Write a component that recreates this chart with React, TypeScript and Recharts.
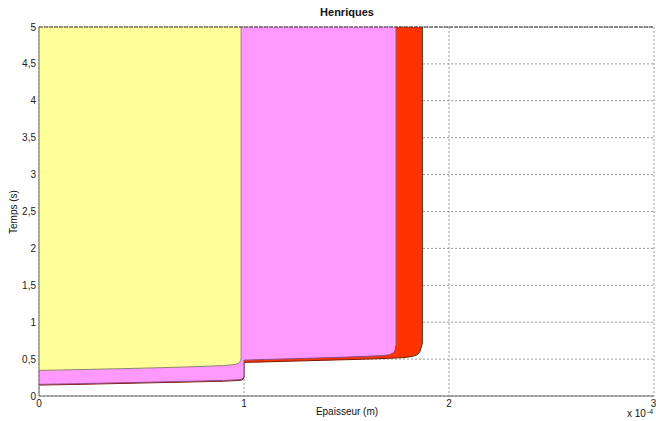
import { ComposedChart, Area, XAxis, YAxis, CartesianGrid, ReferenceLine } from 'recharts';

const xTicks = [0, 1, 2, 3];
const yTicks = [0, 0.5, 1, 1.5, 2, 2.5, 3, 3.5, 4, 4.5, 5];

// bottom boundary of each layer (top is always 5 s), x in units of 1e-4 m
const redX = [0, 0.1, 0.2, 0.3, 0.4, 0.5, 0.6, 0.7, 0.8, 0.9, 0.95, 0.98, 0.99, 0.997, 1.0, 1.0, 1.1, 1.2, 1.3, 1.4, 1.5, 1.6, 1.7, 1.78, 1.82, 1.845, 1.858, 1.865, 1.87, 1.87];
const redLow = [0.148, 0.153, 0.158, 0.164, 0.17, 0.176, 0.182, 0.188, 0.194, 0.201, 0.207, 0.212, 0.218, 0.23, 0.25, 0.455, 0.462, 0.47, 0.477, 0.485, 0.492, 0.5, 0.51, 0.52, 0.535, 0.56, 0.6, 0.66, 0.72, 5];

const magentaX = [0, 0.1, 0.2, 0.3, 0.4, 0.5, 0.6, 0.7, 0.8, 0.9, 0.95, 0.975, 0.99, 0.996, 1.0, 1.0, 1.1, 1.2, 1.3, 1.4, 1.5, 1.6, 1.68, 1.71, 1.73, 1.738, 1.742, 1.742];
const magentaLow = [0.157, 0.162, 0.167, 0.173, 0.179, 0.185, 0.191, 0.197, 0.203, 0.21, 0.216, 0.22, 0.228, 0.24, 0.27, 0.486, 0.494, 0.502, 0.51, 0.518, 0.527, 0.537, 0.548, 0.56, 0.585, 0.63, 0.7, 5];

const yellowX = [0, 0.1, 0.2, 0.3, 0.4, 0.5, 0.6, 0.7, 0.8, 0.9, 0.94, 0.96, 0.972, 0.98, 0.984, 0.986, 0.986];
const yellowLow = [0.347, 0.352, 0.358, 0.364, 0.37, 0.377, 0.384, 0.392, 0.401, 0.413, 0.422, 0.43, 0.443, 0.46, 0.48, 0.51, 5];

const toData = (xs: number[], lows: number[]) => xs.map((x, i) => ({ x, low: lows[i] }));

const redData = toData(redX, redLow);
const magentaData = toData(magentaX, magentaLow);
const yellowData = toData(yellowX, yellowLow);

const font = 'Liberation Sans, Arial, sans-serif';
const fmt = (v: number) => String(v).replace('.', ',');

export default function App() {
  return (
    <div style={{ position: 'absolute', left: 0, top: 0, width: 656, height: 421, background: '#fff', fontFamily: font }}>
      <ComposedChart width={656} height={421} margin={{ top: 27, right: 2, left: 0, bottom: 0 }}>
        <XAxis
          dataKey="x"
          type="number"
          domain={[0, 3]}
          ticks={xTicks}
          allowDataOverflow
          height={25}
          tickLine={false}
          tickSize={0}
          tickMargin={4}
          axisLine={{ stroke: '#666' }}
          tick={{ fontSize: 10, fill: '#222', fontFamily: font }}
        />
        <YAxis
          type="number"
          domain={[0, 5]}
          ticks={yTicks}
          allowDataOverflow
          width={39}
          tickLine={false}
          tickSize={0}
          tickMargin={3}
          tickFormatter={fmt}
          axisLine={{ stroke: '#666' }}
          tick={{ fontSize: 10, fill: '#222', fontFamily: font }}
        />
        <Area data={redData} dataKey="low" baseValue={5} type="linear" fill="#ff3300" fillOpacity={1} stroke="#7a1a00" strokeWidth={1} isAnimationActive={false} />
        <Area data={magentaData} dataKey="low" baseValue={5} type="linear" fill="#ff99ff" fillOpacity={1} stroke="#8a4a8a" strokeWidth={1} isAnimationActive={false} />
        <Area data={yellowData} dataKey="low" baseValue={5} type="linear" fill="#ffff99" fillOpacity={1} stroke="#8a8a6a" strokeWidth={1} isAnimationActive={false} />
        <CartesianGrid stroke="#999" strokeDasharray="2 2" horizontalValues={yTicks} verticalValues={xTicks} />
        <ReferenceLine y={5} stroke="#333" strokeDasharray="4 1" />
      </ComposedChart>
      <div style={{ position: 'absolute', left: 39, width: 616, top: 6, textAlign: 'center', fontSize: 11, fontWeight: 'bold', color: '#111' }}>
        Henriques
      </div>
      <div style={{ position: 'absolute', left: 39, width: 616, top: 406, textAlign: 'center', fontSize: 10, color: '#111' }}>
        Epaisseur (m)
      </div>
      <div style={{ position: 'absolute', left: 13, top: 212, fontSize: 10, color: '#111', whiteSpace: 'nowrap', transform: 'translate(-50%, -50%) rotate(-90deg)' }}>
        Temps (s)
      </div>
      <div style={{ position: 'absolute', left: 627, top: 408, fontSize: 10, color: '#111', whiteSpace: 'nowrap', lineHeight: '12px' }}>
        x 10<span style={{ fontSize: 7, position: 'relative', top: -3, marginLeft: 1 }}>-4</span>
      </div>
    </div>
  );
}
